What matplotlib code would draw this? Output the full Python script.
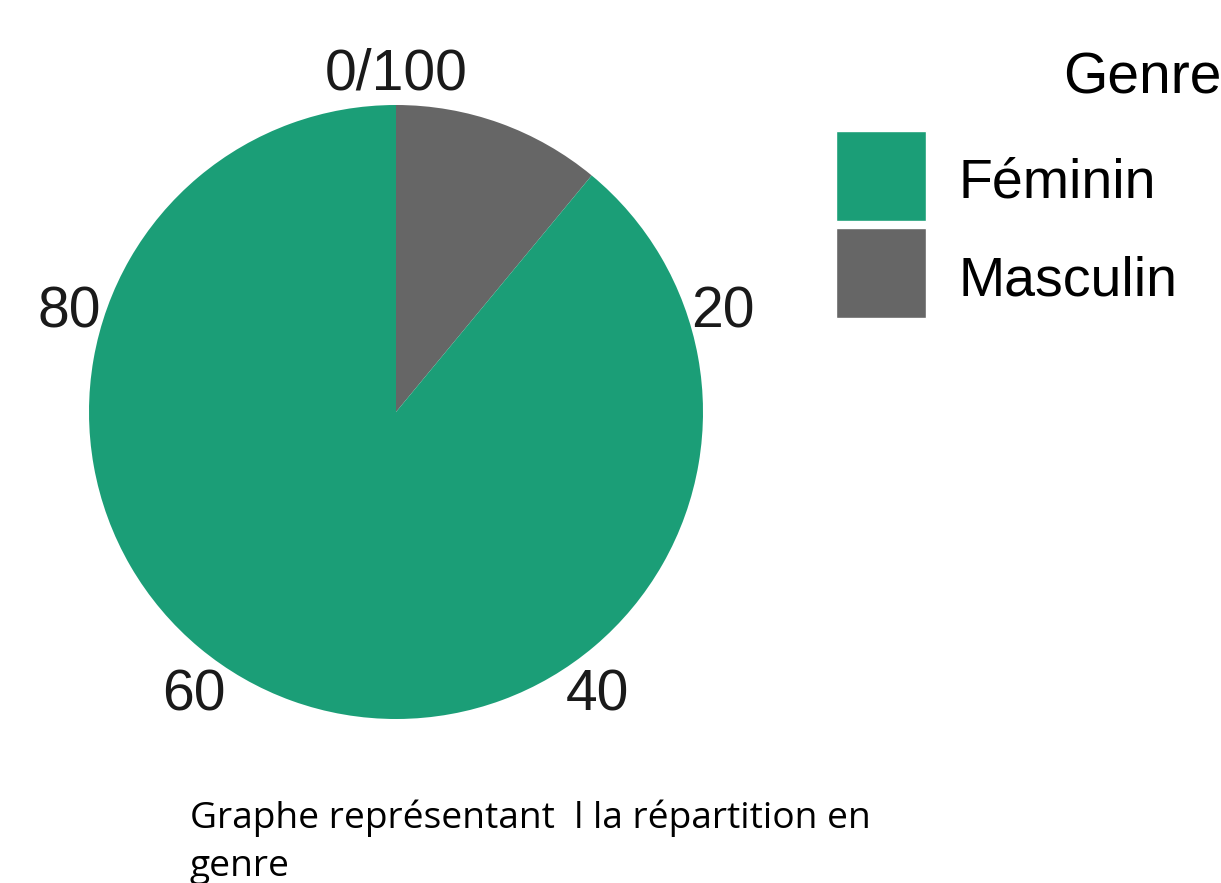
import numpy as np
import matplotlib
matplotlib.use("Agg")
import matplotlib.pyplot as plt
from matplotlib.patches import Rectangle

# data
genres = ["Masculin", "Féminin"]
parts = [11, 89]
colors = {"Féminin": "#1B9E77", "Masculin": "#666666"}
legend_order = ["Féminin", "Masculin"]
tick_values = [0, 20, 40, 60, 80]
tick_labels = ["0/100", "20", "40", "60", "80"]
caption_lines = ["Graphe représentant  l la répartition en", "genre"]

W, H = 1221, 883
fig = plt.figure(figsize=(W / 100, H / 100), dpi=100)
plt.rcParams['font.family'] = ['Liberation Sans', 'DejaVu Sans']

# pie area: centre (396, 412) px, radius 307 px
cx, cy, r = 396, 412, 307
ax = fig.add_axes([(cx - r) / W, (H - cy - r) / H, 2 * r / W, 2 * r / H])
ax.pie(parts, colors=[colors[g] for g in genres], startangle=90,
       counterclock=False, radius=1, wedgeprops=dict(linewidth=0))
ax.set_xlim(-1, 1)
ax.set_ylim(-1, 1)
ax.set_aspect('auto')
ax.axis('off')

# angular tick labels
for v, lab in zip(tick_values, tick_labels):
    a = np.deg2rad(v / 100 * 360)
    ax.text(1.118 * np.sin(a), 1.118 * np.cos(a) - 0.02, lab, ha='center', va='center',
            fontsize=41, color='#1a1a1a', clip_on=False)

# legend
fig.text(1063 / W, 1 - 93 / H, "Genre", fontsize=41, ha='left', va='baseline', color='black')
for i, g in enumerate(legend_order):
    top = 131 + i * 97
    fig.patches.append(Rectangle((836 / W, 1 - (top + 90) / H), 90 / W, 90 / H,
                                 transform=fig.transFigure, facecolor=colors[g],
                                 edgecolor='white', linewidth=1))
    fig.text(958 / W, 1 - (top + 67) / H, g, fontsize=40, ha='left', va='baseline', color='black')

# caption
for i, line in enumerate(caption_lines):
    fig.text(190 / W, 1 - (828 + 48 * i) / H, line, fontsize=26.7,
             family=['Open Sans', 'DejaVu Sans'],
             ha='left', va='baseline', color='black')

fig.savefig("out.png", dpi=100, facecolor='white')
